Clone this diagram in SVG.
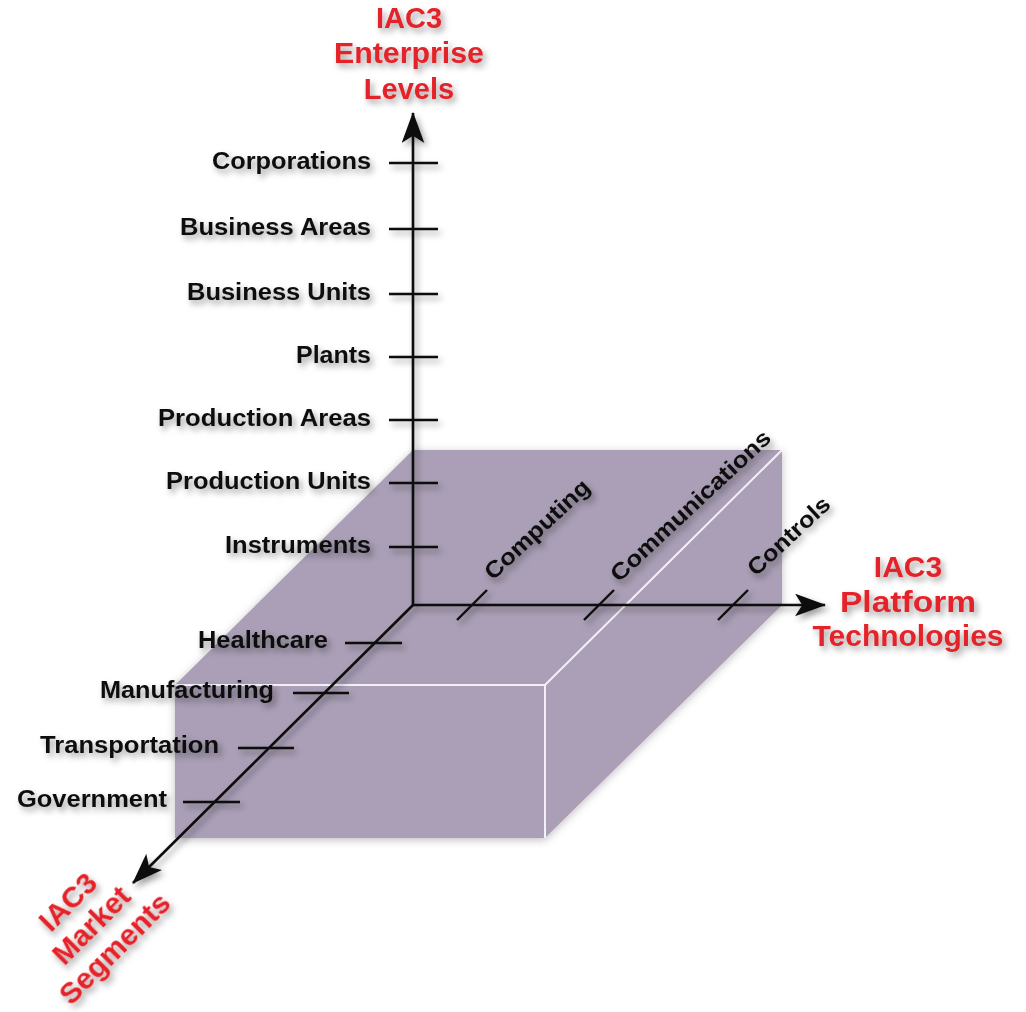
<svg xmlns="http://www.w3.org/2000/svg" width="1026" height="1012" viewBox="0 0 1026 1012">
<defs>
<style>
.lbl{font-family:"Liberation Sans",Arial,sans-serif;font-weight:bold;font-size:23px;fill:#111;}
.ttl{font-family:"Liberation Sans",Arial,sans-serif;font-weight:bold;fill:#e42229;text-anchor:middle;}
.end{text-anchor:end;}
.ax{stroke:#111;stroke-width:2.6;fill:none;}
.tk{stroke:#111;stroke-width:2.4;fill:none;}
.edge{stroke:#f4f0f8;stroke-width:2;fill:none;}
.face{fill:#aa9fb6;}
</style>
<filter id="sh" x="-20%" y="-30%" width="140%" height="170%">
<feDropShadow dx="3" dy="4" stdDeviation="3" flood-color="#000" flood-opacity="0.38"/>
</filter>
<filter id="bsh" x="-10%" y="-10%" width="120%" height="120%">
<feDropShadow dx="0" dy="2" stdDeviation="4" flood-color="#000" flood-opacity="0.25"/>
</filter>
<marker id="ah" viewBox="0 0 30 22" refX="29" refY="11" markerWidth="31" markerHeight="23" orient="auto" markerUnits="userSpaceOnUse">
<path d="M0,0 L30,11 L0,22 L7,11 Z" fill="#111"/>
</marker>
</defs>
<rect width="1026" height="1012" fill="#ffffff"/>

<g id="box" filter="url(#bsh)">
<polygon class="face" points="413,450 782,450 545,685 175,685"/>
<polygon class="face" points="545,685 782,450 782,605 545,838"/>
<polygon class="face" points="175,685 545,685 545,838 175,838"/>
<path class="edge" d="M175,685 L545,685 L782,450 M545,685 L545,838"/>
</g>

<g id="connectors" filter="url(#sh)">
<line class="ax" x1="413" y1="605" x2="413" y2="113" marker-end="url(#ah)"/>
<line class="ax" x1="412" y1="605" x2="825" y2="605" marker-end="url(#ah)"/>
<line class="ax" x1="414" y1="604" x2="133" y2="883" marker-end="url(#ah)"/>
<g class="tk">
<line x1="389" y1="163" x2="438" y2="163"/>
<line x1="389" y1="229" x2="438" y2="229"/>
<line x1="389" y1="294" x2="438" y2="294"/>
<line x1="389" y1="357" x2="438" y2="357"/>
<line x1="389" y1="420" x2="438" y2="420"/>
<line x1="389" y1="483" x2="438" y2="483"/>
<line x1="389" y1="547" x2="438" y2="547"/>
<line x1="457" y1="620" x2="487" y2="590"/>
<line x1="584" y1="620" x2="614" y2="590"/>
<line x1="718" y1="620" x2="748" y2="590"/>
<line x1="345" y1="643" x2="402" y2="643"/>
<line x1="293" y1="693" x2="349" y2="693"/>
<line x1="238" y1="748" x2="294" y2="748"/>
<line x1="183" y1="802" x2="240" y2="802"/>
</g>
</g>

<g filter="url(#sh)">
<g id="corporations"><text class="lbl end" x="371" y="169" textLength="159" lengthAdjust="spacingAndGlyphs">Corporations</text></g>
<g id="business-areas"><text class="lbl end" x="371" y="235" textLength="191" lengthAdjust="spacingAndGlyphs">Business Areas</text></g>
<g id="business-units"><text class="lbl end" x="371" y="300" textLength="184" lengthAdjust="spacingAndGlyphs">Business Units</text></g>
<g id="plants"><text class="lbl end" x="371" y="363" textLength="75" lengthAdjust="spacingAndGlyphs">Plants</text></g>
<g id="production-areas"><text class="lbl end" x="371" y="426" textLength="213" lengthAdjust="spacingAndGlyphs">Production Areas</text></g>
<g id="production-units"><text class="lbl end" x="371" y="489" textLength="205" lengthAdjust="spacingAndGlyphs">Production Units</text></g>
<g id="instruments"><text class="lbl end" x="371" y="553" textLength="146" lengthAdjust="spacingAndGlyphs">Instruments</text></g>

<g id="healthcare"><text class="lbl end" x="328" y="648" textLength="130" lengthAdjust="spacingAndGlyphs">Healthcare</text></g>
<g id="manufacturing"><text class="lbl end" x="274" y="698" textLength="174" lengthAdjust="spacingAndGlyphs">Manufacturing</text></g>
<g id="transportation"><text class="lbl end" x="219" y="753" textLength="179" lengthAdjust="spacingAndGlyphs">Transportation</text></g>
<g id="government"><text class="lbl end" x="167" y="807" textLength="150" lengthAdjust="spacingAndGlyphs">Government</text></g>

<g id="computing"><text class="lbl" transform="translate(493,581) rotate(-43)" textLength="135" lengthAdjust="spacingAndGlyphs">Computing</text></g>
<g id="communications"><text class="lbl" transform="translate(619,583) rotate(-43)" textLength="210" lengthAdjust="spacingAndGlyphs">Communications</text></g>
<g id="controls"><text class="lbl" transform="translate(756,577) rotate(-43)" textLength="104" lengthAdjust="spacingAndGlyphs">Controls</text></g>

<g id="title-enterprise">
<text class="ttl" x="409" y="28" font-size="29">IAC3</text>
<text class="ttl" x="409" y="63" font-size="29" textLength="150" lengthAdjust="spacingAndGlyphs">Enterprise</text>
<text class="ttl" x="409" y="99" font-size="29">Levels</text>
</g>
<g id="title-platform">
<text class="ttl" x="908" y="577" font-size="30">IAC3</text>
<text class="ttl" x="908" y="612" font-size="30" textLength="136" lengthAdjust="spacingAndGlyphs">Platform</text>
<text class="ttl" x="908" y="646" font-size="30">Technologies</text>
</g>
<g id="title-market" transform="translate(92,926) rotate(-45)">
<text class="ttl" x="0" y="-24" font-size="30">IAC3</text>
<text class="ttl" x="0" y="9" font-size="30">Market</text>
<text class="ttl" x="0" y="42" font-size="30">Segments</text>
</g>
</g>
</svg>
